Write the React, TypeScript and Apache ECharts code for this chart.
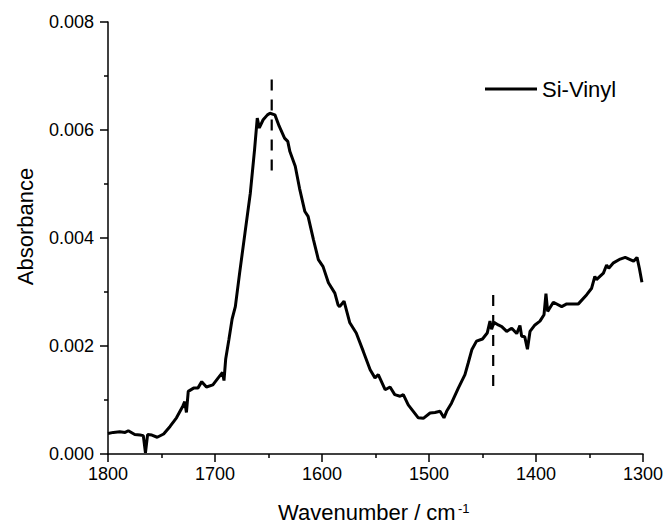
import React, { useEffect, useRef } from "react";
import * as echarts from "echarts";

const wavenumber = [
  1800, 1795, 1789, 1784, 1781, 1775, 1770, 1767, 1765, 1763, 1759, 1754, 1748, 1742, 1736, 1730,
  1728.3, 1726.7, 1725, 1720, 1716, 1712.4, 1708, 1702, 1697, 1693, 1691.6, 1690, 1687, 1684,
  1681, 1677, 1672, 1667, 1663, 1660.5, 1658.6, 1655, 1651, 1648.6, 1644, 1640, 1635, 1632,
  1630, 1625, 1621, 1616, 1613, 1608, 1603.4, 1599, 1594, 1588, 1585, 1583.5, 1579.4, 1574,
  1568, 1561.4, 1555, 1550.5, 1547.4, 1541, 1536.4, 1532, 1527, 1524, 1519.4, 1514.7, 1510,
  1505.3, 1499, 1494.4, 1489.7, 1486, 1483.5, 1479, 1472.6, 1466.4, 1463.3, 1460, 1455.6, 1450,
  1445.6, 1443, 1441.5, 1439.3, 1435.3, 1432, 1427.4, 1422.7, 1418, 1415, 1413.4, 1410.5, 1408,
  1405.6, 1401, 1396.3, 1392.5, 1390.7, 1389.1, 1383.8, 1376, 1371.3, 1360.4, 1352.6, 1348,
  1345, 1343.5, 1337, 1334, 1332, 1327.6, 1321.3, 1316.6, 1312, 1308.8, 1305.6, 1303.4, 1301,
];

const absorbance = [
  0.00038, 0.0004, 0.00041, 0.0004, 0.00043, 0.00036, 0.00035, 0.00034, 0.00002, 0.00036, 0.00035,
  0.00031, 0.00037, 0.00051, 0.00067, 0.00089, 0.00097, 0.00077, 0.00116, 0.00122, 0.00122,
  0.00134, 0.00124, 0.00128, 0.00141, 0.00151, 0.00136, 0.00176, 0.00212, 0.0025, 0.00273,
  0.00335, 0.00409, 0.00483, 0.00564, 0.00622, 0.00604, 0.00619, 0.00628, 0.00631, 0.00628,
  0.00607, 0.00585, 0.00579, 0.0056, 0.00533, 0.00492, 0.00449, 0.0044, 0.00397, 0.0036,
  0.00347, 0.00317, 0.00298, 0.00276, 0.00273, 0.00283, 0.00243, 0.00224, 0.0019, 0.00156,
  0.00141, 0.00147, 0.00119, 0.00124, 0.0011, 0.00107, 0.0011, 0.00091, 0.00079, 0.00067,
  0.00066, 0.00076, 0.00077, 0.00079, 0.00067, 0.00079, 0.00094, 0.00122, 0.00147, 0.00169,
  0.00193, 0.00209, 0.00213, 0.00224, 0.00246, 0.00231, 0.00244, 0.00239, 0.00236, 0.00227,
  0.00233, 0.00223, 0.00238, 0.00218, 0.00217, 0.00194, 0.00227, 0.00239, 0.00246, 0.00258,
  0.00297, 0.00264, 0.00281, 0.00273, 0.00278, 0.00278, 0.00295, 0.00307, 0.00329, 0.00323,
  0.00335, 0.0035, 0.00344, 0.00354, 0.00361, 0.00364, 0.0036, 0.00357, 0.00364, 0.00344, 0.00318,
];

// dashed marker lines: wavenumber position, lower and upper absorbance
const markerWavenumbers = [1647, 1440];
const markerLow = [0.00525, 0.00126];
const markerHigh = [0.00697, 0.00301];

const seriesName = "Si-Vinyl";
const xTicks = [1800, 1700, 1600, 1500, 1400, 1300];
const yTicks = [0, 0.002, 0.004, 0.006, 0.008];

const FONT = "'Liberation Sans', Arial, Helvetica, sans-serif";

export default function App() {
  const ref = useRef<HTMLDivElement>(null);
  useEffect(() => {
    document.body.style.margin = "0";
    if (!ref.current) return;
    const chart = echarts.init(ref.current, null, { renderer: "svg" });
    const lineData = wavenumber.map((w, i) => [w, absorbance[i]]);
    const markerSeries = markerWavenumbers.map((w, i) => ({
      type: "line",
      name: "marker" + i,
      data: [
        [w, markerLow[i]],
        [w, markerHigh[i]],
      ],
      showSymbol: false,
      symbol: "none",
      silent: true,
      lineStyle: { color: "#000", width: 2.2, type: [11, 9] },
    }));
    chart.setOption({
      animation: false,
      backgroundColor: "#fff",
      textStyle: { fontFamily: FONT, color: "#000" },
      grid: { left: 108, right: 24, top: 22, bottom: 74, containLabel: false },
      legend: {
        data: [seriesName],
        left: 480,
        top: 73,
        icon: "rect",
        itemWidth: 52,
        itemHeight: 3,
        itemStyle: { color: "#000" },
        textStyle: { fontFamily: FONT, fontSize: 22, color: "#000" },
      },
      xAxis: {
        type: "value",
        min: xTicks[xTicks.length - 1],
        max: xTicks[0],
        interval: 100,
        inverse: true,
        axisLine: { show: true, onZero: false, lineStyle: { color: "#000", width: 1.5 } },
        axisTick: { show: true, inside: false, length: 8, lineStyle: { color: "#000", width: 1.5 } },
        minorTick: { show: true, splitNumber: 2, length: 4, lineStyle: { color: "#000", width: 1.5 } },
        splitLine: { show: false },
        axisLabel: {
          color: "#000",
          fontSize: 18,
          fontFamily: FONT,
          margin: 11,
          formatter: (v: number) => String(v),
        },
      },
      yAxis: {
        type: "value",
        min: yTicks[0],
        max: yTicks[yTicks.length - 1],
        interval: 0.002,
        axisLine: { show: true, lineStyle: { color: "#000", width: 1.5 } },
        axisTick: { show: true, inside: false, length: 8, lineStyle: { color: "#000", width: 1.5 } },
        minorTick: { show: true, splitNumber: 2, length: 4, lineStyle: { color: "#000", width: 1.5 } },
        splitLine: { show: false },
        axisLabel: {
          color: "#000",
          fontSize: 18,
          fontFamily: FONT,
          margin: 14,
          formatter: (v: number) => v.toFixed(3),
        },
      },
      graphic: [
        {
          type: "text",
          x: 25.5,
          y: 226.5,
          rotation: Math.PI / 2,
          style: {
            text: "Absorbance",
            font: "22px " + FONT,
            fill: "#000",
            textAlign: "center",
            textVerticalAlign: "middle",
          },
        },
        {
          type: "text",
          x: 278,
          y: 512.5,
          style: {
            text: "Wavenumber / cm",
            font: "22px " + FONT,
            fill: "#000",
            textAlign: "left",
            textVerticalAlign: "middle",
          },
        },
        {
          type: "text",
          x: 458,
          y: 508,
          style: {
            text: "-1",
            font: "13px " + FONT,
            fill: "#000",
            textAlign: "left",
            textVerticalAlign: "middle",
          },
        },
      ],
      series: [
        {
          type: "line",
          name: seriesName,
          data: lineData,
          showSymbol: false,
          symbol: "none",
          lineStyle: { color: "#000", width: 3 },
          itemStyle: { color: "#000" },
        },
        ...markerSeries,
      ],
    });
    return () => chart.dispose();
  }, []);
  return <div ref={ref} style={{ width: 667, height: 528 }} />;
}
